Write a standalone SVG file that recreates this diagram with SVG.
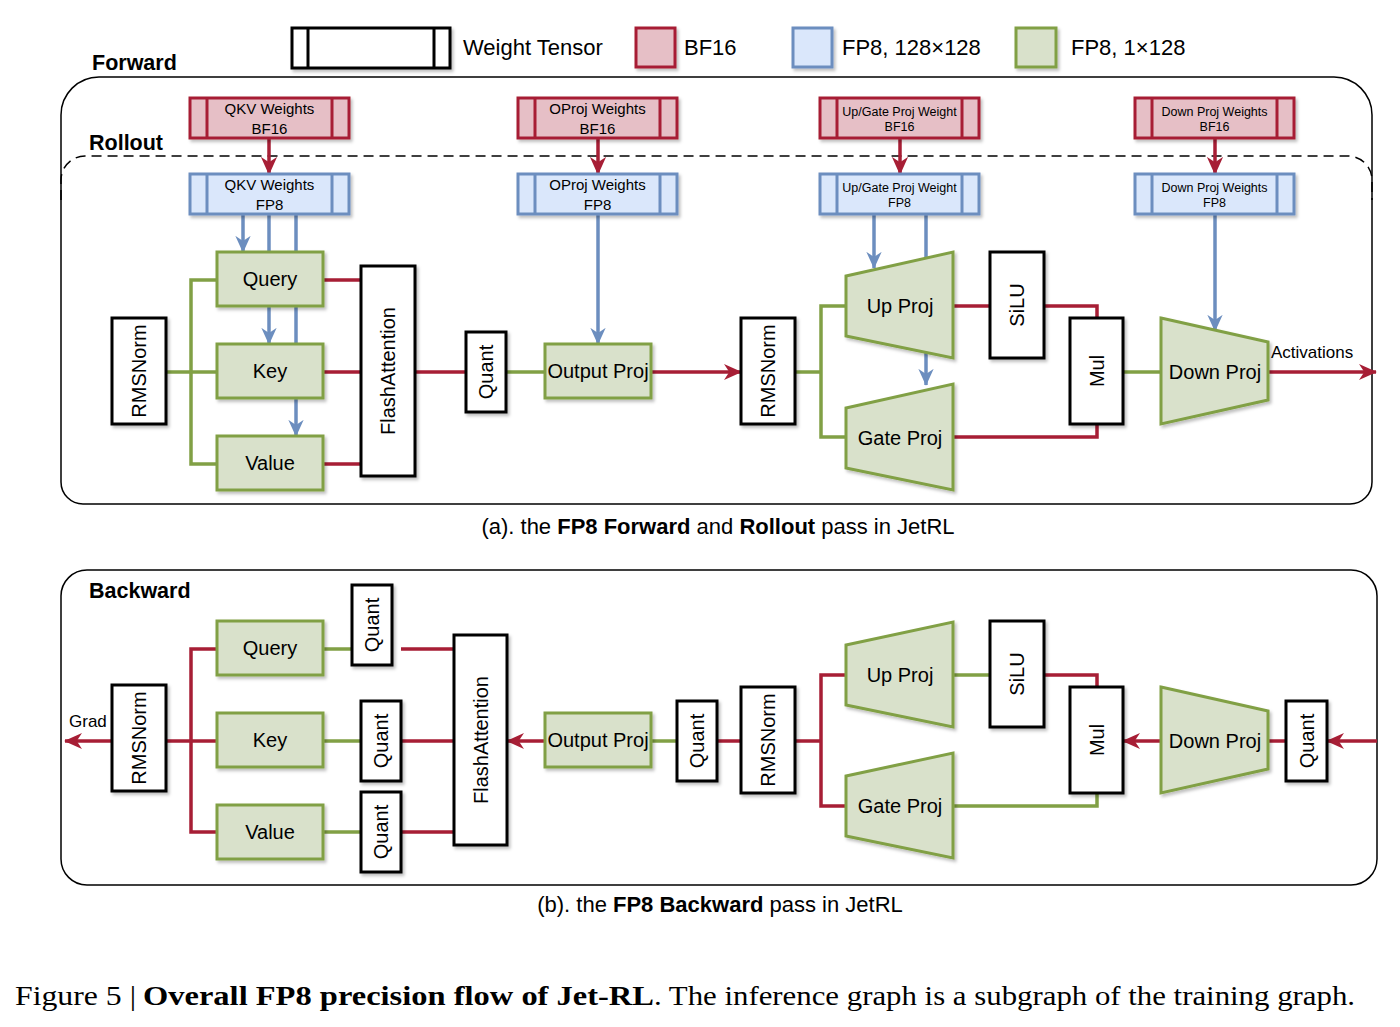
<svg xmlns="http://www.w3.org/2000/svg" width="1400" height="1027" viewBox="0 0 1400 1027">
<style>
text{font-family:"Liberation Sans",Arial,sans-serif;fill:#000}
.lbl{font-size:20px;text-anchor:middle;dominant-baseline:central}
.wt{font-size:15px;text-anchor:middle}
.wts{font-size:12.5px;text-anchor:middle}
.bold{font-weight:bold}
.frame{fill:none;stroke:#000;stroke-width:1.5}
.blk{fill:#fff;stroke:#000;stroke-width:3;filter:url(#shadow)}
.grn{fill:#d9e1cb;stroke:#81a045;stroke-width:3;filter:url(#shadow)}
.red{fill:#e6bfc6;stroke:#a71e35;stroke-width:3;filter:url(#shadow)}
.blu{fill:#dae7fb;stroke:#6c8ebf;stroke-width:3;filter:url(#shadow)}
.lr{fill:none;stroke:#a71e35;stroke-width:3.5}
.lg{fill:none;stroke:#81a045;stroke-width:3.5}
.lb{fill:none;stroke:#6c8ebf;stroke-width:3.5}
.ser{font-family:"Liberation Serif","Times New Roman",serif;font-size:27px}
</style>
<defs>
<filter id="shadow" x="-20%" y="-20%" width="140%" height="140%">
<feDropShadow dx="2" dy="2.5" stdDeviation="1.5" flood-color="#000" flood-opacity="0.25"/>
</filter>
<marker id="ar" viewBox="0 0 10 10" refX="9.5" refY="5" markerWidth="18" markerHeight="18" markerUnits="userSpaceOnUse" orient="auto">
<path d="M0,0.5 L10,5 L0,9.5 L3,5 Z" fill="#a71e35"/>
</marker>
<marker id="ab" viewBox="0 0 10 10" refX="9.5" refY="5" markerWidth="17" markerHeight="17" markerUnits="userSpaceOnUse" orient="auto">
<path d="M0,0.5 L10,5 L0,9.5 L3,5 Z" fill="#6c8ebf"/>
</marker>
</defs>

<!-- Legend -->
<g id="legend">
<rect x="292" y="28" width="158" height="40" class="blk"/><path d="M308,28 V68 M434,28 V68" stroke="#000" stroke-width="3"/>
<text x="463" y="55" font-size="22">Weight Tensor</text>
<rect x="636" y="28" width="39" height="39" class="red"/>
<text x="684" y="55" font-size="22">BF16</text>
<rect x="793" y="28" width="39" height="39" class="blu"/>
<text x="842" y="55" font-size="22">FP8, 128×128</text>
<rect x="1016" y="28" width="40" height="39" class="grn"/>
<text x="1071" y="55" font-size="22">FP8, 1×128</text>
</g>

<!-- Frames -->
<g id="frames">
<text x="92" y="70" font-size="21.5" class="bold">Forward</text>
<path class="frame" d="M61,115 A38,38 0 0 1 99,77 L1334,77 A38,38 0 0 1 1372,115 L1372,482 A22,22 0 0 1 1350,504 L83,504 A22,22 0 0 1 61,482 Z"/>
<path d="M61,200 V180 A24,24 0 0 1 85,156 H1348 A24,24 0 0 1 1372,180 V200" fill="none" stroke="#000" stroke-width="1.5" stroke-dasharray="10 6"/>
<text x="89" y="150" font-size="21.5" class="bold">Rollout</text>
<rect x="61" y="570" width="1316" height="315" rx="26" ry="26" class="frame"/>
<text x="89" y="598" font-size="21.5" class="bold">Backward</text>
</g>

<!-- Connectors -->
<g id="connectors">
<line x1="269" y1="138" x2="269" y2="174" class="lr" marker-end="url(#ar)"/>
<line x1="598" y1="138" x2="598" y2="174" class="lr" marker-end="url(#ar)"/>
<line x1="900" y1="138" x2="900" y2="174" class="lr" marker-end="url(#ar)"/>
<line x1="1215" y1="138" x2="1215" y2="174" class="lr" marker-end="url(#ar)"/>
<line x1="243" y1="214" x2="243" y2="252" class="lb" marker-end="url(#ab)"/>
<line x1="269" y1="214" x2="269" y2="344" class="lb" marker-end="url(#ab)"/>
<line x1="296" y1="214" x2="296" y2="436" class="lb" marker-end="url(#ab)"/>
<line x1="598" y1="214" x2="598" y2="344" class="lb" marker-end="url(#ab)"/>
<line x1="874" y1="214" x2="874" y2="268" class="lb" marker-end="url(#ab)"/>
<line x1="926" y1="214" x2="926" y2="385" class="lb" marker-end="url(#ab)"/>
<line x1="1215" y1="214" x2="1215" y2="331" class="lb" marker-end="url(#ab)"/>
<path class="lg" d="M166,372 H191 M217,280 H191 V464 H217 M191,372 H217"/>
<path class="lr" d="M323,280 H361 M323,372 H361 M323,464 H361"/>
<line x1="415" y1="372" x2="466" y2="372" class="lr"/>
<line x1="506" y1="372" x2="545" y2="372" class="lg"/>
<line x1="651" y1="372" x2="741" y2="372" class="lr" marker-end="url(#ar)"/>
<path class="lg" d="M795,372 H821 M846,306 H821 V437 H846"/>
<line x1="953" y1="306" x2="990" y2="306" class="lr"/>
<path class="lr" d="M1044,306 H1097 V318"/>
<path class="lr" d="M953,437 H1097 V424"/>
<line x1="1123" y1="372" x2="1161" y2="372" class="lg"/>
<line x1="1268" y1="372" x2="1376" y2="372" class="lr" marker-end="url(#ar)"/>
<line x1="112" y1="741" x2="65" y2="741" class="lr" marker-end="url(#ar)"/>
<path class="lr" d="M166,741 H191 M217,649 H191 V832 H217 M191,741 H217"/>
<path class="lg" d="M323,649 H352 M323,741 H361 M323,832 H361"/>
<path class="lr" d="M401,649 H454 M401,741 H454 M401,832 H454"/>
<line x1="545" y1="741" x2="507" y2="741" class="lr" marker-end="url(#ar)"/>
<line x1="651" y1="741" x2="677" y2="741" class="lg"/>
<line x1="717" y1="741" x2="741" y2="741" class="lr"/>
<path class="lr" d="M795,741 H821 M846,675 H821 V806 H846"/>
<line x1="953" y1="675" x2="990" y2="675" class="lg"/>
<path class="lr" d="M1044,675 H1097 V687"/>
<path class="lg" d="M953,806 H1097 V793"/>
<line x1="1161" y1="741" x2="1123" y2="741" class="lr" marker-end="url(#ar)"/>
<line x1="1268" y1="741" x2="1286" y2="741" class="lr"/>
<line x1="1377" y1="741" x2="1327" y2="741" class="lr" marker-end="url(#ar)"/>
</g>

<!-- Forward nodes -->
<g id="qkv-bf16"><rect x="190" y="98" width="159" height="40" class="red"/><path d="M207,98 V138 M332,98 V138" stroke="#a71e35" stroke-width="3"/><text x="269.5" y="114" class="wt">QKV Weights</text><text x="269.5" y="134" class="wt">BF16</text></g>
<g id="oproj-bf16"><rect x="518" y="98" width="159" height="40" class="red"/><path d="M535,98 V138 M660,98 V138" stroke="#a71e35" stroke-width="3"/><text x="597.5" y="114" class="wt">OProj Weights</text><text x="597.5" y="134" class="wt">BF16</text></g>
<g id="upgate-bf16"><rect x="820" y="98" width="159" height="40" class="red"/><path d="M837,98 V138 M962,98 V138" stroke="#a71e35" stroke-width="3"/><text x="899.5" y="116" class="wts">Up/Gate Proj Weight</text><text x="899.5" y="131" class="wts">BF16</text></g>
<g id="down-bf16"><rect x="1135" y="98" width="159" height="40" class="red"/><path d="M1152,98 V138 M1277,98 V138" stroke="#a71e35" stroke-width="3"/><text x="1214.5" y="116" class="wts" font-size="13">Down Proj Weights</text><text x="1214.5" y="131" class="wts">BF16</text></g>

<g id="qkv-fp8"><rect x="190" y="174" width="159" height="40" class="blu"/><path d="M207,174 V214 M332,174 V214" stroke="#6c8ebf" stroke-width="3"/><text x="269.5" y="190" class="wt">QKV Weights</text><text x="269.5" y="210" class="wt">FP8</text></g>
<g id="oproj-fp8"><rect x="518" y="174" width="159" height="40" class="blu"/><path d="M535,174 V214 M660,174 V214" stroke="#6c8ebf" stroke-width="3"/><text x="597.5" y="190" class="wt">OProj Weights</text><text x="597.5" y="210" class="wt">FP8</text></g>
<g id="upgate-fp8"><rect x="820" y="174" width="159" height="40" class="blu"/><path d="M837,174 V214 M962,174 V214" stroke="#6c8ebf" stroke-width="3"/><text x="899.5" y="192" class="wts">Up/Gate Proj Weight</text><text x="899.5" y="207" class="wts">FP8</text></g>
<g id="down-fp8"><rect x="1135" y="174" width="159" height="40" class="blu"/><path d="M1152,174 V214 M1277,174 V214" stroke="#6c8ebf" stroke-width="3"/><text x="1214.5" y="192" class="wts" font-size="13">Down Proj Weights</text><text x="1214.5" y="207" class="wts">FP8</text></g>

<g id="f-rmsnorm1"><rect x="112" y="318" width="54" height="106" class="blk"/><text class="lbl" transform="translate(139,371) rotate(-90)">RMSNorm</text></g>
<g id="f-query"><rect x="217" y="252" width="106" height="54" class="grn"/><text x="270" y="279" class="lbl">Query</text></g>
<g id="f-key"><rect x="217" y="344" width="106" height="54" class="grn"/><text x="270" y="371" class="lbl">Key</text></g>
<g id="f-value"><rect x="217" y="436" width="106" height="54" class="grn"/><text x="270" y="463" class="lbl">Value</text></g>
<g id="f-flash"><rect x="361" y="266" width="54" height="210" class="blk"/><text class="lbl" transform="translate(388,371) rotate(-90)">FlashAttention</text></g>
<g id="f-quant"><rect x="466" y="332" width="40" height="80" class="blk"/><text class="lbl" transform="translate(486,372) rotate(-90)">Quant</text></g>
<g id="f-oproj"><rect x="545" y="344" width="106" height="54" class="grn"/><text x="598" y="371" class="lbl">Output Proj</text></g>
<g id="f-rmsnorm2"><rect x="741" y="318" width="54" height="106" class="blk"/><text class="lbl" transform="translate(768,371) rotate(-90)">RMSNorm</text></g>
<g id="f-upproj"><path d="M846,276 L953,252 L953,358 L846,336 Z" class="grn"/><text x="900" y="306" class="lbl">Up Proj</text></g>
<g id="f-gateproj"><path d="M846,408 L953,384 L953,490 L846,468 Z" class="grn"/><text x="900" y="438" class="lbl">Gate Proj</text></g>
<g id="f-silu"><rect x="990" y="252" width="54" height="106" class="blk"/><text class="lbl" transform="translate(1017,305) rotate(-90)">SiLU</text></g>
<g id="f-mul"><rect x="1070" y="318" width="53" height="106" class="blk"/><text class="lbl" transform="translate(1096.5,371) rotate(-90)">Mul</text></g>
<g id="f-downproj"><path d="M1161,318 L1268,342 L1268,400 L1161,424 Z" class="grn"/><text x="1215" y="372" class="lbl">Down Proj</text></g>
<text x="1271" y="358" font-size="17">Activations</text>

<text x="718" y="534" font-size="22" text-anchor="middle">(a). the <tspan class="bold">FP8 Forward</tspan> and <tspan class="bold">Rollout</tspan> pass in JetRL</text>

<!-- Backward nodes -->
<text x="69" y="727" font-size="17">Grad</text>
<g id="b-rmsnorm1"><rect x="112" y="685" width="54" height="106" class="blk"/><text class="lbl" transform="translate(139,738) rotate(-90)">RMSNorm</text></g>
<g id="b-query"><rect x="217" y="621" width="106" height="54" class="grn"/><text x="270" y="648" class="lbl">Query</text></g>
<g id="b-key"><rect x="217" y="713" width="106" height="54" class="grn"/><text x="270" y="740" class="lbl">Key</text></g>
<g id="b-value"><rect x="217" y="805" width="106" height="54" class="grn"/><text x="270" y="832" class="lbl">Value</text></g>
<g id="b-quant-q"><rect x="352" y="585" width="40" height="80" class="blk"/><text class="lbl" transform="translate(372,625) rotate(-90)">Quant</text></g>
<g id="b-quant-k"><rect x="361" y="701" width="40" height="80" class="blk"/><text class="lbl" transform="translate(381,741) rotate(-90)">Quant</text></g>
<g id="b-quant-v"><rect x="361" y="792" width="40" height="80" class="blk"/><text class="lbl" transform="translate(381,832) rotate(-90)">Quant</text></g>
<g id="b-flash"><rect x="454" y="635" width="53" height="210" class="blk"/><text class="lbl" transform="translate(480.5,740) rotate(-90)">FlashAttention</text></g>
<g id="b-oproj"><rect x="545" y="713" width="106" height="54" class="grn"/><text x="598" y="740" class="lbl">Output Proj</text></g>
<g id="b-quant-o"><rect x="677" y="701" width="40" height="80" class="blk"/><text class="lbl" transform="translate(697,741) rotate(-90)">Quant</text></g>
<g id="b-rmsnorm2"><rect x="741" y="687" width="54" height="106" class="blk"/><text class="lbl" transform="translate(768,740) rotate(-90)">RMSNorm</text></g>
<g id="b-upproj"><path d="M846,645 L953,622 L953,727 L846,705 Z" class="grn"/><text x="900" y="675" class="lbl">Up Proj</text></g>
<g id="b-gateproj"><path d="M846,776 L953,753 L953,858 L846,836 Z" class="grn"/><text x="900" y="806" class="lbl">Gate Proj</text></g>
<g id="b-silu"><rect x="990" y="621" width="54" height="106" class="blk"/><text class="lbl" transform="translate(1017,674) rotate(-90)">SiLU</text></g>
<g id="b-mul"><rect x="1070" y="687" width="53" height="106" class="blk"/><text class="lbl" transform="translate(1096.5,740) rotate(-90)">Mul</text></g>
<g id="b-downproj"><path d="M1161,687 L1268,711 L1268,769 L1161,793 Z" class="grn"/><text x="1215" y="741" class="lbl">Down Proj</text></g>
<g id="b-quant-d"><rect x="1286" y="701" width="41" height="80" class="blk"/><text class="lbl" transform="translate(1306.5,741) rotate(-90)">Quant</text></g>

<text x="720" y="912" font-size="22" text-anchor="middle">(b). the <tspan class="bold">FP8 Backward</tspan> pass in JetRL</text>

<text x="15" y="1005" class="ser" textLength="121" lengthAdjust="spacingAndGlyphs">Figure 5 |</text>
<text x="143" y="1005" class="ser" font-weight="bold" textLength="511" lengthAdjust="spacingAndGlyphs">Overall FP8 precision flow of Jet-RL</text>
<text x="654" y="1005" class="ser" textLength="701" lengthAdjust="spacingAndGlyphs">. The inference graph is a subgraph of the training graph.</text>
</svg>
